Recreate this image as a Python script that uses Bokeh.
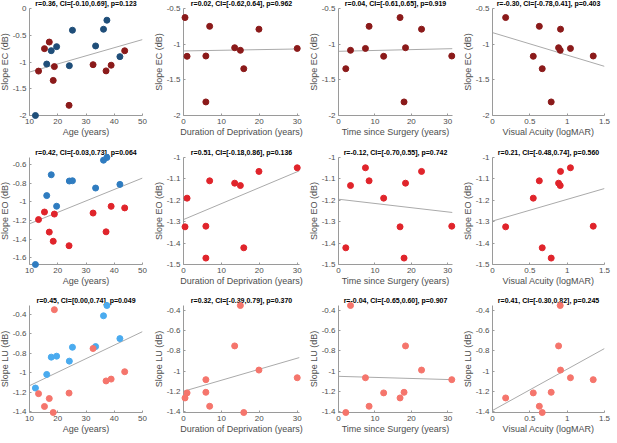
from bokeh.plotting import figure
from bokeh.layouts import gridplot
from bokeh.models import Range1d, FixedTicker
from bokeh.embed import file_html
from bokeh.resources import INLINE

FONT = "Liberation Sans"

# ---------------- data ----------------
# sighted controls (blue), only shown against age
age_ctrl = [12.1, 16.1, 17.7, 19.6, 24.1, 25.2, 33.4, 36.2, 37.4, 42.0]
ec_ctrl = [-2.0, -1.038, -0.788, -0.713, -1.069, -0.406, -0.70, -0.388, -0.219, -0.90]
eo_ctrl = [-1.671, -0.933, -0.71, -1.047, -0.777, -0.774, -0.852, -0.554, -0.525, -0.813]
lu_ctrl = [-1.158, -1.018, -0.840, -0.830, -0.881, -0.738, -0.731, -0.414, -0.308, -0.649]

# cataract-reversal group (red)
age_late = [17.0, 24.0, 43.7, 18.4, 15.3, 18.8, 32.5, 38.9, 13.2, 37.1]
duration = [0.4, 5.9, 19.9, 15.9, 6.9, 15.0, 13.5, 30.0, 0.94, 5.9]
time_since = [16.9, 18.0, 22.8, 2.0, 8.4, 3.3, 18.4, 7.4, 12.4, 31.1]
acuity = [0.176, 0.786, 0.911, 0.666, 0.627, 0.907, 0.885, 1.044, 0.546, 1.349]
ec_late = [-0.627, -1.81, -0.79, -1.344, -0.75, -1.086, -1.05, -1.06, -1.17, -1.166]
eo_late = [-1.324, -1.47, -1.065, -1.422, -1.109, -1.131, -1.12, -1.048, -1.19, -1.321]
lu_late = [-1.266, -1.21, -0.99, -1.41, -1.348, -0.351, -0.751, -1.066, -1.216, -1.085]

# regression lines: y at the left and right ends of each x axis
fit_ec = [(-1.188, -0.581), (-1.095, -1.067), (-1.10, -1.063), (-0.838, -1.311)]
fit_eo = [(-1.235, -0.745), (-1.29, -1.062), (-1.195, -1.257), (-1.297, -1.145)]
fit_lu = [(-1.134, -0.577), (-1.20, -0.866), (-1.052, -1.085), (-1.39, -0.777)]

titles = [
    ["r=0.36, CI=[-0.10,0.69], p=0.123", "r=0.02, CI=[-0.62,0.64], p=0.962",
     "r=0.04, CI=[-0.61,0.65], p=0.919", "r=-0.30, CI=[-0.78,0.41], p=0.403"],
    ["r=0.42, CI=[-0.03,0.73], p=0.064", "r=0.51, CI=[-0.18,0.86], p=0.136",
     "r=-0.12, CI=[-0.70,0.55], p=0.742", "r=0.21, CI=[-0.48,0.74], p=0.560"],
    ["r=0.45, CI=[0.00,0.74], p=0.049", "r=0.32, CI=[-0.39,0.79], p=0.370",
     "r=-0.04, CI=[-0.65,0.60], p=0.907", "r=0.41, CI=[-0.30,0.82], p=0.245"],
]

x_labels = ["Age (years)", "Duration of Deprivation (years)",
            "Time since Surgery (years)", "Visual Acuity (logMAR)"]
y_labels = ["Slope EC (dB)", "Slope EO (dB)", "Slope LU (dB)"]
x_lims = [(10, 50), (0, 30.6), (0, 31.3), (0, 1.5)]
x_ticks = [[10, 20, 30, 40, 50], [0, 10, 20, 30], [0, 10, 20, 30], [0, 0.5, 1, 1.5]]

ticks_ec_age = [-2, -1.5, -1, -0.5, 0]
ticks_ec = [-2, -1.5, -1, -0.5]
ticks_eo_age = [-1.6, -1.4, -1.2, -1, -0.8, -0.6]
ticks_eo = [-1.5, -1.4, -1.3, -1.2, -1.1, -1]
ticks_lu = [-1.4, -1.2, -1, -0.8, -0.6, -0.4]

# ---------------- styling / layout ----------------
late_colors = ["#8b1a1a", "#e0242b", "#f5756c"]
ctrl_colors = ["#1f4e79", "#2f7cc0", "#4aabef"]
TEXT = "#4d4d4d"
AXIS = "#9a9a9a"
FIT = "#aaaaaa"

cell_w = [154, 155, 154, 154]
border_left = [30, 29, 29, 29]
frame_w = [116, 120, 118, 116]
cell_h = [148, 149, 146]
border_top = [12, 13, 12]
frame_h = 107

x_late = [age_late, duration, time_since, acuity]
late_vals = [ec_late, eo_late, lu_late]
ctrl_vals = [ec_ctrl, eo_ctrl, lu_ctrl]
fits = [fit_ec, fit_eo, fit_lu]


def y_setup(r, c):
    if r == 0:
        return ((-2, 0), ticks_ec_age) if c == 0 else ((-2, -0.5), ticks_ec)
    if r == 1:
        if c == 0:
            allv = eo_late + eo_ctrl
            return (min(allv), max(allv)), ticks_eo_age
        return (-1.5, -1), ticks_eo
    if c == 0:
        allv = lu_late + lu_ctrl
        return (min(allv), max(allv)), ticks_lu
    return (min(lu_late), max(lu_late)), ticks_lu


def fmt(ticks):
    return {float(t): f"{t:g}" for t in ticks}


grid = []
for r in range(3):
    row = []
    for c in range(4):
        ylim, yt = y_setup(r, c)
        p = figure(width=cell_w[c], height=cell_h[r],
                   x_range=Range1d(*x_lims[c]), y_range=Range1d(*ylim),
                   output_backend="svg", toolbar_location=None,
                   min_border_left=border_left[c],
                   min_border_right=cell_w[c] - border_left[c] - frame_w[c],
                   min_border_top=border_top[r],
                   min_border_bottom=cell_h[r] - border_top[r] - frame_h,
                   title=titles[r][c])
        p.outline_line_color = None
        p.xgrid.visible = False
        p.ygrid.visible = False
        p.background_fill_color = "white"
        p.border_fill_color = "white"

        t = p.title
        t.text_font = FONT
        t.text_font_size = "7px"
        t.text_font_style = "bold"
        t.text_color = "black"
        t.align = "center"
        t.standoff = 3
        t.offset = 0

        for ax, lab, ticks in ((p.xaxis[0], x_labels[c], x_ticks[c]),
                               (p.yaxis[0], y_labels[r], yt)):
            ax.axis_label = lab
            ax.ticker = FixedTicker(ticks=ticks)
            ax.major_label_overrides = fmt(ticks)
            ax.axis_label_text_font = FONT
            ax.axis_label_text_font_size = "9px"
            ax.axis_label_text_font_style = "normal"
            ax.axis_label_text_color = TEXT
            ax.major_label_text_font = FONT
            ax.major_label_text_font_size = "8px"
            ax.major_label_text_color = TEXT
            ax.axis_line_color = AXIS
            ax.major_tick_line_color = AXIS
            ax.major_tick_in = 2
            ax.major_tick_out = 0
            ax.minor_tick_line_color = None
            ax.major_label_standoff = 3
            ax.axis_label_standoff = 0

        p.line(list(x_lims[c]), list(fits[r][c]), line_color=FIT, line_width=1)
        if c == 0:
            p.scatter(age_ctrl, ctrl_vals[r], size=6, fill_color=ctrl_colors[r],
                      line_color=ctrl_colors[r], level="overlay")
        p.scatter(x_late[c], late_vals[r], size=6, fill_color=late_colors[r],
                  line_color=late_colors[r], level="overlay")
        row.append(p)
    grid.append(row)

gp = gridplot(grid, toolbar_location=None)
gp.margin = (-4, -4, -4, -4)

open("out.html", "w").write(file_html(gp, INLINE))
